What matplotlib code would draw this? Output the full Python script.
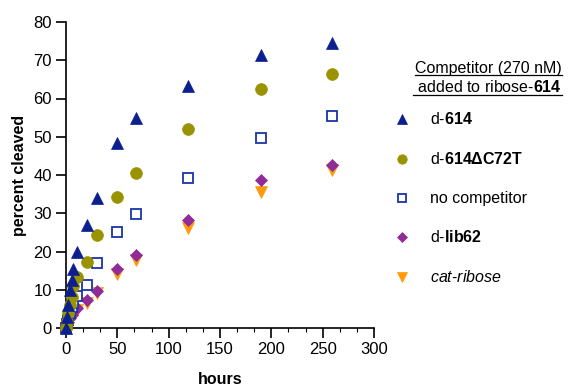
import numpy as np
import matplotlib
matplotlib.use("Agg")
import matplotlib.pyplot as plt
from matplotlib.lines import Line2D
from matplotlib.ticker import MultipleLocator, AutoMinorLocator

plt.rcParams['font.family'] = ['Liberation Sans', 'DejaVu Sans']
plt.rcParams['mathtext.fontset'] = 'custom'
plt.rcParams['mathtext.rm'] = 'Liberation Sans'
plt.rcParams['mathtext.bf'] = 'Liberation Sans:bold'
plt.rcParams['mathtext.it'] = 'Liberation Sans:italic'

# time points (hours)
hours = [0, 1, 2, 4, 6, 7, 11, 20, 30, 50, 68, 119, 190, 259]

# percent cleaved for each competitor
d614 = [0, 3, 6, 10, 12.5, 15.3, 20, 27, 34, 48.4, 55, 63.3, 71.3, 74.4]
d614_c72t = [0, 1.5, 4, 6, 8, 11, 13.4, 17.2, 24.2, 34.2, 40.6, 52, 62.5, 66.4]
no_comp = [0, 1, 2, 4, 5.5, 6.5, 8.4, 11.2, 17, 25, 29.7, 39.2, 49.6, 55.3]
d_lib62 = [0, 0.8, 1.5, 2.5, 3.5, 4.5, 5.3, 7.4, 9.7, 15.3, 19.2, 28.3, 38.7, 42.6]
cat_ribose = [0, 0.8, 1.5, 2.5, 3.2, 4, 4.8, 6.6, 9.2, 14, 17.8, 26.1, 35.6, 41.3]

series = [
    (d614, r'd-$\mathbf{614}$', '^', '#0c1f8e', '#0c1f8e'),
    (d614_c72t, r'd-$\mathbf{614\Delta C72T}$', 'o', '#9a9300', '#9a9300'),
    (no_comp, 'no competitor', 's', 'white', '#1b34a8'),
    (d_lib62, r'd-$\mathbf{lib62}$', 'D', '#8f2c99', '#8f2c99'),
    (cat_ribose, r'$\mathit{cat}$-$\mathit{ribose}$', 'v', '#ff9a0a', '#ff9a0a'),
]
sizes = {'^': 8.5, 'o': 8.5, 's': 7.5, 'D': 6, 'v': 8.5}

fig = plt.figure(figsize=(5.73, 3.91), dpi=100)
ax = fig.add_axes([66 / 573, 63 / 391, 308 / 573, 306 / 391])

for y, lab, m, fc, ec in reversed(series):
    ax.plot(hours, y, linestyle='none', marker=m, ms=sizes[m], mfc=fc, mec=ec,
            mew=1.3 if m == 's' else 0.5, clip_on=False, zorder=3)

ax.set_xlim(0, 300)
ax.set_ylim(0, 80)
ax.xaxis.set_major_locator(MultipleLocator(50))
ax.xaxis.set_minor_locator(AutoMinorLocator(3))
ax.yaxis.set_major_locator(MultipleLocator(10))
ax.spines['top'].set_visible(False)
ax.spines['right'].set_visible(False)
for s in ['left', 'bottom']:
    ax.spines[s].set_linewidth(1.2)
ax.tick_params(axis='both', which='major', length=7, width=1.2, labelsize=12, pad=3)
ax.tick_params(axis='x', which='minor', length=3, width=0.8)
ax.set_xlabel('hours', fontsize=11.5, fontweight='bold', labelpad=11)
ax.set_ylabel('percent cleaved', fontsize=11.5, fontweight='bold', labelpad=5)

# legend drawn by hand on the right
title1 = fig.text(562 / 573, 1 - 68 / 391, 'Competitor (270 nM)', ha='right', va='center', fontsize=11.5)
title2 = fig.text(562 / 573, 1 - 87 / 391, r' added to ribose-$\mathbf{614}$', ha='right', va='center', fontsize=11.5)
for i, (y, lab, m, fc, ec) in enumerate(series):
    yy = 1 - (119 + 39.5 * i) / 391
    fig.add_artist(Line2D([402 / 573], [yy], marker=m, ms=sizes[m] * 0.8, mfc=fc, mec=ec,
                          mew=1.3 if m == 's' else 0.5, linestyle='none'))
    fig.text(430 / 573, yy, lab, ha='left', va='center', fontsize=11.5)

fig.canvas.draw()
r = fig.canvas.get_renderer()
for t in (title1, title2):
    bb = t.get_window_extent(r)
    fig.add_artist(Line2D([bb.x0 / 573, bb.x1 / 573], [bb.y0 / 391 + 0.001] * 2, color='black', lw=0.9))

fig.savefig('out.png', dpi=100)
